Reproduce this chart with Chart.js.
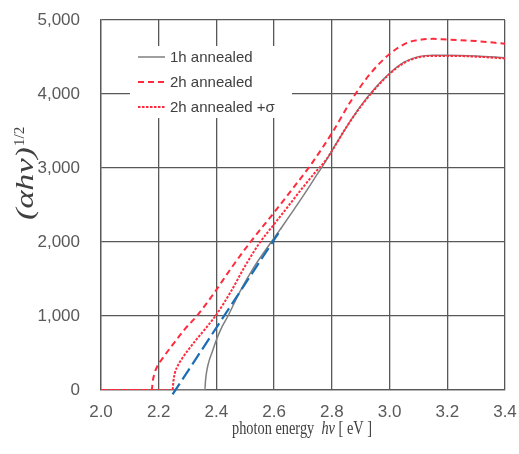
<!DOCTYPE html>
<html lang="en">
<head>
<meta charset="UTF-8">
<title>Tauc plot - annealed films</title>
<script src="https://cdn.jsdelivr.net/npm/chart.js"></script>
<style>
  body { margin: 0; background: #fff; }
  canvas { display: block; }
</style>
</head>
<body>
<canvas id="taucChart" width="519" height="454"></canvas>
<script>
// photon energy [eV] and (alpha h nu)^(1/2)
const energy1h = [2.0, 2.36, 2.362, 2.367, 2.375, 2.385, 2.40, 2.42, 2.44, 2.48, 2.53, 2.59, 2.63, 2.66, 2.70, 2.74, 2.77, 2.80, 2.85, 2.90, 2.95, 3.00, 3.05, 3.10, 3.15, 3.20, 3.30, 3.40];
const alpha1h  = [0, 0, 120, 270, 400, 510, 680, 860, 1000, 1320, 1660, 2000, 2220, 2390, 2620, 2860, 3040, 3230, 3550, 3840, 4080, 4280, 4430, 4505, 4525, 4525, 4515, 4490];

const energy2h = [2.0, 2.176, 2.179, 2.185, 2.195, 2.21, 2.25, 2.29, 2.332, 2.39, 2.45, 2.516, 2.60, 2.66, 2.73, 2.80, 2.87, 2.93, 3.00, 3.06, 3.10, 3.15, 3.20, 3.30, 3.40];
const alpha2h  = [0, 0, 110, 220, 320, 410, 620, 820, 1000, 1300, 1640, 1990, 2400, 2700, 3060, 3470, 3930, 4260, 4540, 4690, 4730, 4745, 4735, 4715, 4680];

const energy2hs = [2.0, 2.248, 2.251, 2.256, 2.265, 2.28, 2.30, 2.33, 2.36, 2.40, 2.45, 2.50, 2.55, 2.60, 2.65, 2.70, 2.74, 2.78, 2.80, 2.85, 2.90, 2.95, 3.00, 3.05, 3.10, 3.15, 3.20, 3.30, 3.40];
const alpha2hs  = [0, 0, 120, 230, 320, 420, 530, 680, 820, 1020, 1330, 1680, 1990, 2240, 2490, 2740, 2930, 3110, 3230, 3550, 3830, 4070, 4270, 4420, 4495, 4515, 4515, 4505, 4480];

// extrapolated band-edge line
const tangentX = [2.248, 2.625];
const tangentY = [-60, 2180];

const xTicks = [2.0, 2.2, 2.4, 2.6, 2.8, 3.0, 3.2, 3.4];
const yTicks = [0, 1000, 2000, 3000, 4000, 5000];

const seriesLabels = ['1h annealed', '2h annealed', '2h annealed +σ'];

const RED = '#ff2b3c';
const GRID = '#585858';
const toPts = (xs, ys) => xs.map((x, i) => ({ x: x, y: ys[i] }));

// legend drawn inside the plot on a white box
const legendBox = {
  id: 'legendBox',
  afterDatasetsDraw(chart) {
    const c = chart.ctx;
    c.save();
    c.fillStyle = '#fff';
    c.fillRect(130, 46, 162, 72);
    [0, 1, 2].forEach(i => {
      const ds = chart.data.datasets[i];
      const y = 57 + i * 25;
      c.beginPath();
      c.strokeStyle = ds.borderColor;
      c.lineWidth = ds.borderWidth;
      c.setLineDash(ds.borderDash || []);
      c.moveTo(138, y);
      c.lineTo(165, y);
      c.stroke();
      c.setLineDash([]);
      c.fillStyle = '#404040';
      c.font = '15px "Liberation Sans", Arial, sans-serif';
      c.textBaseline = 'middle';
      c.textAlign = 'left';
      c.fillText(ds.label, 170, y + 1);
    });
    c.restore();
  }
};

// axis titles with italic parts and superscript
const axisTitles = {
  id: 'axisTitles',
  afterDraw(chart) {
    const c = chart.ctx;
    c.save();
    c.fillStyle = '#404040';
    c.textBaseline = 'alphabetic';
    c.textAlign = 'left';

    // x title
    const parts = [['photon energy  ', 'normal'], ['hν', 'italic'], [' [ eV ]', 'normal']];
    const fnt = ' 19px "Liberation Serif", serif';
    let w = 0;
    parts.forEach(p => { c.font = p[1] + fnt; w += c.measureText(p[0]).width; });
    const tw = 140;
    c.save();
    c.translate(302 - tw / 2, 434);
    c.scale(tw / w, 1);
    let px = 0;
    parts.forEach(p => {
      c.font = p[1] + fnt;
      c.fillText(p[0], px, 0);
      px += c.measureText(p[0]).width;
    });
    c.restore();

    // y title
    c.save();
    c.translate(33, 220);
    c.rotate(-Math.PI / 2);
    c.font = 'italic 26px "Liberation Serif", serif';
    const main = '(αhν)';
    const mw = c.measureText(main).width;
    c.save();
    c.scale(73 / mw, 1);
    c.fillText(main, 0, 0);
    c.restore();
    c.font = '15px "Liberation Serif", serif';
    c.fillText('1/2', 74, -9);
    c.restore();

    c.restore();
  }
};

new Chart(document.getElementById('taucChart').getContext('2d'), {
  type: 'scatter',
  data: {
    datasets: [
      { label: seriesLabels[0], data: toPts(energy1h, alpha1h), showLine: true, borderColor: '#7f7f7f', borderWidth: 1.5, pointRadius: 0, cubicInterpolationMode: 'monotone', order: 3 },
      { label: seriesLabels[1], data: toPts(energy2h, alpha2h), showLine: true, borderColor: RED, borderWidth: 2, borderDash: [6, 4], pointRadius: 0, cubicInterpolationMode: 'monotone', order: 2 },
      { label: seriesLabels[2], data: toPts(energy2hs, alpha2hs), showLine: true, borderColor: RED, borderWidth: 2, borderDash: [2.5, 1.5], pointRadius: 0, cubicInterpolationMode: 'monotone', order: 1 },
      { label: 'tangent', data: toPts(tangentX, tangentY), showLine: true, borderColor: '#1a6db5', borderWidth: 2.2, borderDash: [13, 5], pointRadius: 0, order: 0, clip: { left: 5, right: 5, top: 5, bottom: 10 } }
    ]
  },
  options: {
    responsive: false,
    animation: false,
    layout: { padding: { top: 20, right: 14, left: 0, bottom: 0 } },
    plugins: { legend: { display: false }, tooltip: { enabled: false } },
    scales: {
      x: {
        type: 'linear',
        min: 2.0,
        max: 3.4,
        afterBuildTicks: s => { s.ticks = xTicks.map(v => ({ value: v })); },
        afterFit: s => { s.height = 64; s.paddingLeft = 0; s.paddingRight = 0; },
        grid: { color: GRID, lineWidth: 1.3, drawTicks: false },
        border: { color: GRID, width: 1.3 },
        ticks: { padding: 12, color: '#595959', maxRotation: 0, autoSkip: false, font: { family: '"Liberation Sans", Arial, sans-serif', size: 17 }, callback: v => v.toFixed(1) }
      },
      y: {
        min: 0,
        max: 5000,
        afterBuildTicks: s => { s.ticks = yTicks.map(v => ({ value: v })); },
        afterFit: s => { s.width = 101; s.paddingTop = 0; s.paddingBottom = 0; },
        grid: { color: GRID, lineWidth: 1.3, drawTicks: false },
        border: { color: GRID, width: 1.3 },
        ticks: { padding: 21, color: '#595959', font: { family: '"Liberation Sans", Arial, sans-serif', size: 17 }, callback: v => v.toLocaleString('en-US') }
      }
    }
  },
  plugins: [legendBox, axisTitles]
});
</script>
</body>
</html>
